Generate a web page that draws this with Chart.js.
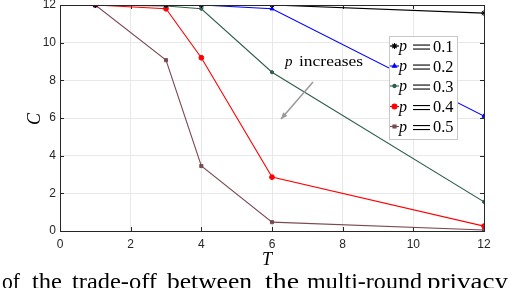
<!DOCTYPE html>
<html><head><meta charset="utf-8">
<script src="https://cdn.jsdelivr.net/npm/chart.js@4/dist/chart.umd.min.js"></script>
<style>html,body{margin:0;padding:0;background:#fff;}#wrap{width:522px;height:288px;position:relative;}</style>
</head><body><div id="wrap"><canvas id="c" width="522" height="288"></canvas></div>
<script>
const T = [1, 3, 4, 6, 12];
const p01 = [12, 12, 12, 12, 11.57];
const p02 = [12, 12, 12, 11.8, 6.1];
const p03 = [12, 11.95, 11.8, 8.43, 1.55];
const p04 = [12, 11.8, 9.2, 2.86, 0.26];
const p05 = [12, 9.07, 3.45, 0.47, 0.05];
const seriesLabels = ['0.1', '0.2', '0.3', '0.4', '0.5'];
const xTicks = [0, 2, 4, 6, 8, 10, 12];
const yTicks = [0, 2, 4, 6, 8, 10, 12];
const captionWords = ['of', 'the', 'trade-off', 'between', 'the', 'multi-round', 'privacy'];

const colors = ['#000000', '#0000ff', '#2e5e48', '#ff0000', '#7a4a52'];
const styles = ['star', 'triangle', 'circle', 'circle', 'rect'];
const radii = [3, 2.3, 1.6, 2.4, 2.2];
const all = [p01, p02, p03, p04, p05];

const datasets = all.map((arr, i) => ({
  label: 'p = ' + seriesLabels[i],
  data: T.map((t, j) => ({x: t, y: arr[j]})),
  borderColor: colors[i],
  backgroundColor: colors[i],
  borderWidth: 1.1,
  pointStyle: styles[i],
  pointRadius: radii[i],
  pointBorderWidth: 1,
  tension: 0
}));

const serif = '"Liberation Serif", "DejaVu Serif", serif';

const deco = {
  id: 'deco',
  beforeDatasetsDraw(chart) {
    const {ctx, chartArea: a, scales: {x, y}} = chart;
    ctx.save();
    ctx.strokeStyle = '#262626';
    ctx.lineWidth = 1;
    xTicks.forEach(v => {
      const px = Math.round(x.getPixelForValue(v)) + 0.5;
      ctx.beginPath();
      ctx.moveTo(px, a.bottom); ctx.lineTo(px, a.bottom - 4);
      ctx.moveTo(px, a.top); ctx.lineTo(px, a.top + 4);
      ctx.stroke();
    });
    yTicks.forEach(v => {
      const py = Math.round(y.getPixelForValue(v)) + 0.5;
      ctx.beginPath();
      ctx.moveTo(a.left, py); ctx.lineTo(a.left + 4, py);
      ctx.moveTo(a.right, py); ctx.lineTo(a.right - 4, py);
      ctx.stroke();
    });
    ctx.restore();
  },
  afterDraw(chart) {
    const {ctx, chartArea: a} = chart;
    ctx.save();
    ctx.strokeStyle = '#262626';
    ctx.lineWidth = 1;
    ctx.strokeRect(Math.round(a.left) + 0.5, Math.round(a.top) + 0.5, Math.round(a.right - a.left), Math.round(a.bottom - a.top));

    // annotation text
    ctx.fillStyle = '#000';
    ctx.textBaseline = 'alphabetic';
    ctx.font = 'italic 15px ' + serif;
    ctx.fillText('p', 285, 66);
    ctx.font = '15px ' + serif;
    ctx.save();
    ctx.translate(299, 66);
    const iw = ctx.measureText('increases').width;
    ctx.scale(64 / iw, 1);
    ctx.fillText('increases', 0, 0);
    ctx.restore();

    // arrow
    ctx.strokeStyle = '#999';
    ctx.fillStyle = '#999';
    ctx.lineWidth = 1.5;
    const x1 = 313, y1 = 82, x2 = 281, y2 = 119;
    ctx.beginPath(); ctx.moveTo(x1, y1); ctx.lineTo(x2, y2); ctx.stroke();
    const ang = Math.atan2(y2 - y1, x2 - x1);
    ctx.beginPath();
    ctx.moveTo(x2, y2);
    ctx.lineTo(x2 - 7 * Math.cos(ang - 0.4), y2 - 7 * Math.sin(ang - 0.4));
    ctx.lineTo(x2 - 7 * Math.cos(ang + 0.4), y2 - 7 * Math.sin(ang + 0.4));
    ctx.closePath(); ctx.fill();

    // legend
    const lx = 389, ly = 36, lw = 68, lh = 103;
    ctx.fillStyle = '#fff';
    ctx.fillRect(lx, ly, lw, lh);
    ctx.strokeStyle = '#c8c8c8';
    ctx.lineWidth = 1;
    ctx.strokeRect(lx + 0.5, ly + 0.5, lw, lh);
    const rows = [46, 66, 86, 106.5, 126.5];
    chart.data.datasets.forEach((ds, i) => {
      const ry = rows[i];
      ctx.strokeStyle = ds.borderColor;
      ctx.lineWidth = 1.1;
      ctx.beginPath(); ctx.moveTo(390, ry); ctx.lineTo(399, ry); ctx.stroke();
      ctx.save();
      ctx.fillStyle = ds.borderColor; ctx.strokeStyle = ds.borderColor;
      Chart.helpers.drawPoint(ctx, {pointStyle: ds.pointStyle, radius: ds.pointRadius, borderWidth: 1}, 394.5, ry);
      ctx.restore();
      ctx.fillStyle = '#000';
      ctx.font = 'italic 16px ' + serif;
      ctx.fillText('p', 399, ry + 5);
      // stretched equals sign
      ctx.fillRect(413, ry - 1.5, 17, 1.1);
      ctx.fillRect(413, ry + 2.5, 17, 1.1);
      ctx.font = '16px ' + serif;
      ctx.save();
      ctx.translate(433, ry + 5.5);
      const tw = ctx.measureText(seriesLabels[i]).width;
      ctx.scale(20.5 / tw, 1);
      ctx.fillText(seriesLabels[i], 0, 0);
      ctx.restore();
    });

    // axis titles
    ctx.fillStyle = '#000';
    ctx.font = 'italic 18px ' + serif;
    ctx.textAlign = 'center';
    ctx.fillText('T', 267, 265);
    ctx.save();
    ctx.translate(40, 119);
    ctx.rotate(-Math.PI / 2);
    ctx.fillText('C', 0, 0);
    ctx.restore();

    // caption: word starts/ends measured from picture layout
    ctx.textAlign = 'left';
    ctx.font = '23px ' + serif;
    const spans = [[2, 20], [32, 62], [72, 157], [167, 252], [265, 299], [307, 422], [427, 508]];
    captionWords.forEach((w, i) => {
      const mw = ctx.measureText(w).width;
      ctx.save();
      ctx.translate(spans[i][0], 289);
      ctx.scale((spans[i][1] - spans[i][0]) / mw, 1);
      ctx.fillText(w, 0, 0);
      ctx.restore();
    });
    ctx.restore();
  }
};

new Chart(document.getElementById('c'), {
  type: 'line',
  data: {datasets},
  options: {
    responsive: false,
    animation: false,
    layout: {padding: {left: 0, right: 38, top: 5, bottom: 0}},
    plugins: {legend: {display: false}, tooltip: {enabled: false}},
    scales: {
      x: {
        type: 'linear', min: 0, max: 12,
        afterBuildTicks: s => { s.ticks = xTicks.map(v => ({value: v})); },
        afterFit: s => { s.height = 57; s.paddingLeft = 0; s.paddingRight = 0; },
        grid: {color: '#e8e8e8', drawTicks: false, lineWidth: 1},
        border: {display: false},
        ticks: {padding: 6, color: '#262626', font: {family: '"Liberation Sans", Arial, sans-serif', size: 12}, maxRotation: 0}
      },
      y: {
        type: 'linear', min: 0, max: 12,
        afterBuildTicks: s => { s.ticks = yTicks.map(v => ({value: v})); },
        afterFit: s => { s.width = 60; s.paddingTop = 0; s.paddingBottom = 0; },
        grid: {color: '#e8e8e8', drawTicks: false, lineWidth: 1},
        border: {display: false},
        ticks: {padding: 4, color: '#262626', font: {family: '"Liberation Sans", Arial, sans-serif', size: 12}}
      }
    }
  },
  plugins: [deco]
});
</script></body></html>
